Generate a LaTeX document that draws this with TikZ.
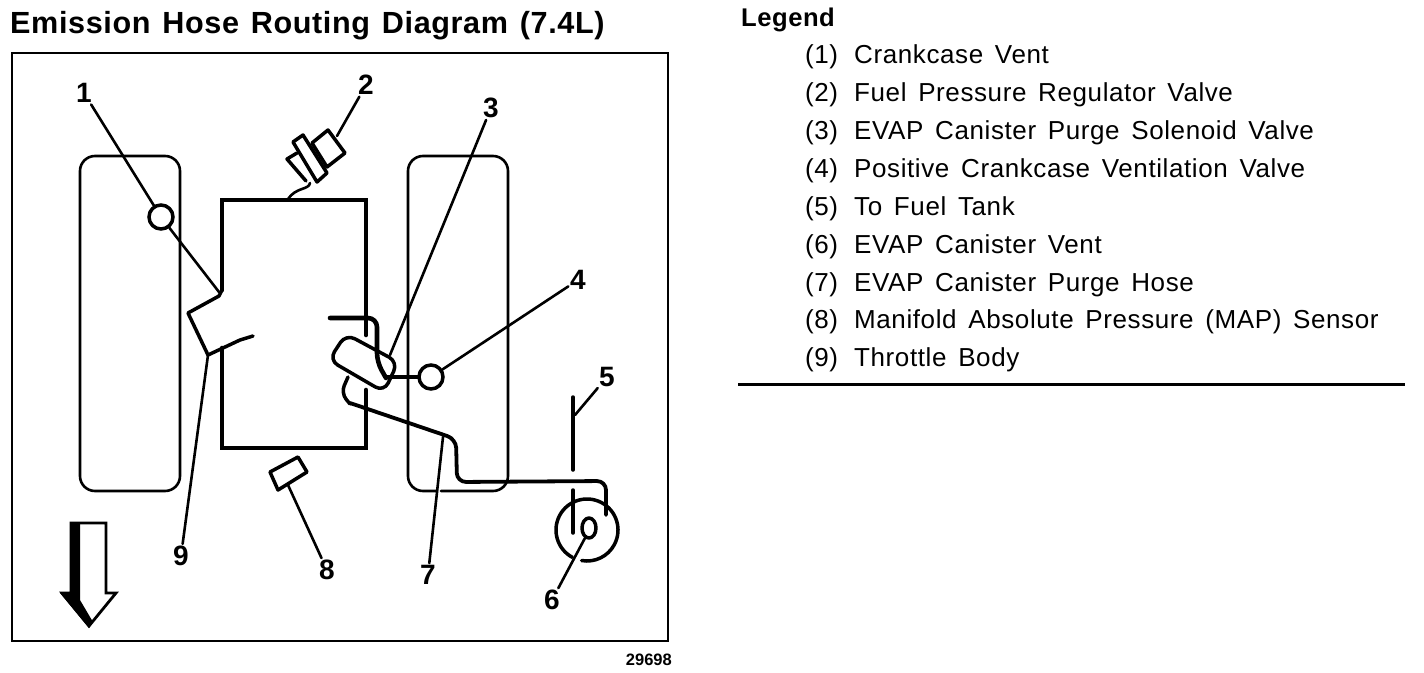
\documentclass[tikz,border=0pt]{standalone}
\usepackage{fontspec}
\setmainfont{Liberation Sans}
\newfontfamily\legendfont[LetterSpace=2.3,WordSpace=1.5]{Liberation Sans}
\newfontfamily\titlefont[LetterSpace=2,WordSpace=1.3]{Liberation Sans Bold}
\begin{document}
\begin{tikzpicture}[x=1pt,y=-1pt,
  thin line/.style={line width=2.6pt,line cap=round,line join=round},
  body line/.style={line width=3.5pt,line cap=round,line join=round},
  heavy line/.style={line width=4.6pt,line cap=round,line join=miter},
  hose line/.style={line width=3.8pt,line cap=round,line join=round},
  num/.style={font=\fontsize{28}{30}\selectfont\bfseries,inner sep=0pt,text=black},
  legendtext/.style={anchor=base west,inner sep=0pt,font=\legendfont\fontsize{26}{30}\selectfont},
  ring/.style={circle,draw,line width=3.5pt,inner sep=0pt,minimum size=24pt,fill=white}]
\useasboundingbox (0,0) rectangle (1424,672);
\fill[white] (0,0) rectangle (1424,672);

% titles
\node[anchor=base west,inner sep=0pt,font=\titlefont\fontsize{30.6}{34}\selectfont] (title) at (10,33) {Emission Hose Routing Diagram (7.4L)};
\node[anchor=base west,inner sep=0pt,font=\titlefont\fontsize{25.6}{28}\selectfont] (legendhead) at (741,26) {Legend};
\foreach \n/\t/\yy in {1/Crankcase Vent/63,2/Fuel Pressure Regulator Valve/101,3/EVAP Canister Purge Solenoid Valve/139,4/Positive Crankcase Ventilation Valve/177,5/To Fuel Tank/215,6/EVAP Canister Vent/253,7/EVAP Canister Purge Hose/291,8/Manifold Absolute Pressure (MAP) Sensor/328,9/Throttle Body/366}{
  \node[legendtext] (ln\n) at (805,\yy) {(\n)};
  \node[legendtext] (lt\n) at (854,\yy) {\t};
}
\coordinate (ruleL) at (738,384);
\coordinate (ruleR) at (1405,384);
\draw[line width=3pt] (ruleL) -- (ruleR);

% frame
\draw[line width=2.8pt] (12,53) rectangle (668,641);
\node[anchor=east,inner sep=0pt,font=\bfseries\fontsize{16.5}{18}\selectfont] (code) at (672,660) {29698};

% side banks
\draw[thin line,rounded corners=15pt] (80,156) rectangle (180,491);
\draw[thin line,rounded corners=15pt] (437,491) -- (408,491) -- (408,156) -- (508,156) -- (508,491) -- (441,491);

% central plenum
\draw[heavy line] (222,290) -- (222,200) -- (366,200) -- (366,335);
\draw[heavy line] (366,390) -- (366,448) -- (222,448) -- (222,348);
% throttle body
\draw[body line] (222,290) -- (219,296) -- (188,313) -- (208,355) -- (240,340) -- (253,336);

% solenoid valve
\draw[body line,fill=white,rounded corners=10pt] (346,334) -- (398,362) -- (384,392) -- (329,360) -- cycle;
% hoses
\draw[heavy line,rounded corners=9pt] (330,318) -- (377,318) -- (377,362) -- (386,378);
\draw[heavy line] (386,377) -- (420,377);
\draw[body line,rounded corners=8pt] (348,377) -- (341,393) -- (350,404);
\draw[hose line,rounded corners=9pt] (350,403) -- (456,439) -- (457,482) -- (606,481) -- (606,515);

% regulator
\draw[body line,fill=white] (297,153) -- (287,159) -- (306,181);
\draw[body line,fill=white] (328,130) -- (345,153) -- (327,167) -- (312,143) -- cycle;
\draw[body line,fill=white] (303,135) -- (327,173) -- (317,182) -- (293,142) -- cycle;
\draw[thin line] (310,183) .. controls (309,190) and (296,187) .. (288,199);

% vent tubes and canister
\coordinate (tubeA) at (573,397);
\coordinate (tubeB) at (573,470);
\coordinate (tubeC) at (573,490);
\coordinate (tubeD) at (573,533);
\draw[body line] (tubeA) -- (tubeB);
\draw[body line] (tubeC) -- (tubeD);
\coordinate (canister) at (587,530);
\draw[body line] (canister) ++(118:31) arc[start angle=118,end angle=460,radius=31];
\draw[body line] (589,528) ellipse[x radius=7,y radius=10];

% sensor
\draw[body line] (270,472) -- (298,457) -- (307,472) -- (278,490) -- cycle;

% rings
\node[ring] (c1) at (161,217) {};
\node[ring] (c4) at (431,377) {};
\coordinate (tb) at (219,292);
\draw[thin line] (c1) -- (tb);

% arrow
\fill (70,523) -- (80,523) -- (80,600) -- (93,622) -- (89,628) -- (60,593) -- (70,593) -- cycle;
\draw[line width=2.8pt,line join=miter] (71,523) -- (106,523) -- (106,593) -- (116,593) -- (89,626) -- (62,593) -- (71,593) -- cycle;

% numbers and leaders
\node[num] (n1) at (84,93) {1};
\node[num] (n2) at (366,85) {2};
\node[num] (n3) at (491,108) {3};
\node[num] (n4) at (578,280) {4};
\node[num] (n5) at (607,377) {5};
\node[num] (n6) at (552,600) {6};
\node[num] (n7) at (428,575) {7};
\node[num] (n8) at (327,570) {8};
\node[num] (n9) at (181,556) {9};
\coordinate (t2) at (337,136);
\coordinate (t3) at (390,355);
\coordinate (t5) at (575,415);
\coordinate (t6) at (585,538);
\coordinate (t7) at (443,437);
\coordinate (t8) at (288,485);
\coordinate (t9) at (208,355);
\draw[thin line,shorten <=2pt] (n1) -- (c1);
\draw[thin line,shorten <=2pt] (n2) -- (t2);
\draw[thin line,shorten <=2pt] (n3) -- (t3);
\draw[thin line,shorten <=2pt] (n4) -- (c4);
\draw[thin line,shorten <=2pt] (n5) -- (t5);
\draw[thin line,shorten <=2pt] (n6) -- (t6);
\draw[thin line,shorten <=2pt] (n7) -- (t7);
\draw[thin line,shorten <=2pt] (n8) -- (t8);
\draw[thin line,shorten <=2pt] (n9) -- (t9);
\end{tikzpicture}
\end{document}
